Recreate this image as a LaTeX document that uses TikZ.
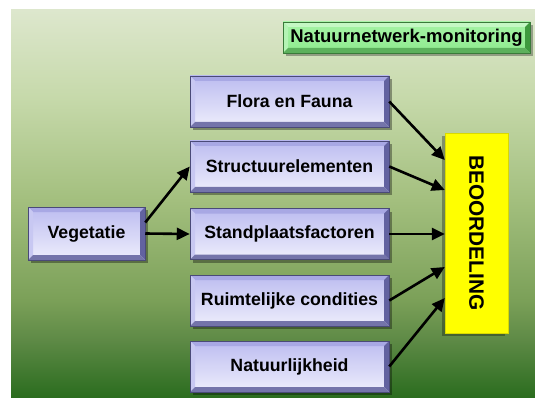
\documentclass[tikz,border=0pt]{standalone}
\usepackage{fontspec}
\setmainfont{Liberation Sans}
\usetikzlibrary{arrows.meta,shadows}
\definecolor{bg1}{HTML}{DDE7CD}
\definecolor{bg2}{HTML}{C6D9AA}
\definecolor{bg3}{HTML}{A3BF7E}
\definecolor{bg4}{HTML}{7BA058}
\definecolor{bg5}{HTML}{5E8A46}
\definecolor{bg6}{HTML}{2A6C1E}
\definecolor{bfacetop}{HTML}{BCBCF0}
\definecolor{bfacebot}{HTML}{EEEEFC}
\definecolor{bvtop}{HTML}{A8A8E4}
\definecolor{bvleft}{HTML}{C8C8F2}
\definecolor{bvright}{HTML}{6262A0}
\definecolor{bvbot}{HTML}{7474AA}
\definecolor{bborder}{HTML}{4A4A78}
\definecolor{gfacetop}{HTML}{A6F4A6}
\definecolor{gfacebot}{HTML}{8EEA8E}
\definecolor{gvtop}{HTML}{C4F8C4}
\definecolor{gvleft}{HTML}{B4F4B4}
\definecolor{gvright}{HTML}{3E9A3E}
\definecolor{gvbot}{HTML}{5CB05C}
\definecolor{gborder}{HTML}{3A7A3A}
\definecolor{yel}{HTML}{FFFF00}
\pgfdeclareverticalshading{bgshade}{100bp}{color(0bp)=(bg6); color(25bp)=(bg6); color(32.5bp)=(bg5); color(37.6bp)=(bg4); color(50.5bp)=(bg3); color(63.6bp)=(bg2); color(75bp)=(bg1); color(100bp)=(bg1)}
\tikzset{
  bevelpic/.style n args={4}{path picture={
    \fill[#1] (path picture bounding box.north west) -- (path picture bounding box.north east)
      -- ([shift={(-5pt,-5pt)}]path picture bounding box.north east) -- ([shift={(5pt,-5pt)}]path picture bounding box.north west) -- cycle;
    \fill[#2] (path picture bounding box.north west) -- (path picture bounding box.south west)
      -- ([shift={(5pt,5pt)}]path picture bounding box.south west) -- ([shift={(5pt,-5pt)}]path picture bounding box.north west) -- cycle;
    \fill[#3] (path picture bounding box.north east) -- (path picture bounding box.south east)
      -- ([shift={(-5pt,5pt)}]path picture bounding box.south east) -- ([shift={(-5pt,-5pt)}]path picture bounding box.north east) -- cycle;
    \fill[#4] (path picture bounding box.south west) -- (path picture bounding box.south east)
      -- ([shift={(-5pt,5pt)}]path picture bounding box.south east) -- ([shift={(5pt,5pt)}]path picture bounding box.south west) -- cycle;
  }},
  bluebox/.style={draw=bborder, line width=0.5pt, top color=bfacetop, bottom color=bfacebot,
    minimum width=199pt, minimum height=51pt, inner sep=0pt,
    font=\fontsize{17.7}{21}\selectfont\bfseries,
    bevelpic={bvtop}{bvleft}{bvright}{bvbot},
    drop shadow={shadow xshift=3pt, shadow yshift=-3pt, opacity=0.35, fill=black}},
  greenbox/.style={draw=gborder, line width=0.5pt, top color=gfacetop, bottom color=gfacebot,
    minimum width=247pt, minimum height=31pt, inner sep=0pt,
    font=\fontsize{18.5}{21}\selectfont\bfseries,
    bevelpic={gvtop}{gvleft}{gvright}{gvbot},
    drop shadow={shadow xshift=3pt, shadow yshift=-3pt, opacity=0.3, fill=black}},
  yellowbox/.style={fill=yel, draw=yel!85!black, line width=0.4pt,
    minimum width=63pt, minimum height=200pt, inner sep=0pt,
    drop shadow={shadow xshift=-3pt, shadow yshift=-3pt, opacity=0.3, fill=black}},
  conn/.style={line width=2.6pt, -{Triangle[length=13pt,width=12pt]}}
}
\begin{document}
\begin{tikzpicture}[x=1pt,y=-1pt]
\useasboundingbox (0,0) rectangle (535,398);
\fill[white] (0,0) rectangle (535,398);
\shade[shading=bgshade] (11,10) rectangle (535,398);

\node[greenbox] (title) at (406.5,37.5) {Natuurnetwerk-monitoring};

\node[bluebox] (flora) at (289.5,101.5) {Flora en Fauna};
\node[bluebox] (struct) at (289.5,166.5) {Structuurelementen};
\node[bluebox] (stand) at (289.5,234) {Standplaatsfactoren};
\node[bluebox] (ruimte) at (289.5,300.5) {Ruimtelijke condities};
\node[bluebox] (natuur) at (289.5,366.5) {Natuurlijkheid};
\node[bluebox, minimum width=117pt, minimum height=53pt] (veg) at (86.5,233.5) {Vegetatie};

\node[yellowbox] (beo) at (476.5,233) {};
\node[rotate=-90, font=\fontsize{20.8}{24}\selectfont\bfseries] (beotext) at (beo.center) {BEOORDELING};

\draw[conn] ([yshift=11pt]veg.east) -- (struct.west);
\draw[conn] (veg.east) -- (stand.west);

\draw[conn] (flora.east) -- ([yshift=73pt]beo.west);
\draw[conn] (struct.east) -- ([yshift=43pt]beo.west);
\draw[conn] (stand.east) -- ([yshift=-1pt]beo.west);
\draw[conn] (ruimte.east) -- ([yshift=-34pt]beo.west);
\draw[conn] (natuur.east) -- ([yshift=-65pt]beo.west);
\end{tikzpicture}
\end{document}
